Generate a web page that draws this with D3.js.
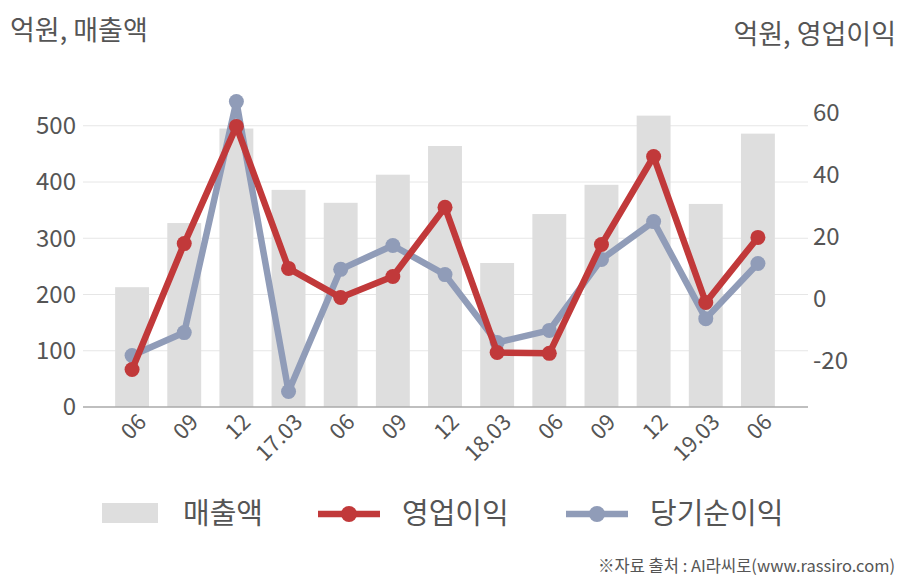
<!DOCTYPE html>
<html>
<head>
<meta charset="utf-8">
<script src="https://cdn.jsdelivr.net/npm/d3@7"></script>
<style>
  body { margin: 0; background: #fff; }
  svg text { font-family: "Noto Sans CJK KR", "Noto Sans", sans-serif; fill: #555; }
</style>
</head>
<body>
<div class="chart"></div>
<script>
const periods = ["06", "09", "12", "17.03", "06", "09", "12", "18.03", "06", "09", "12", "19.03", "06"]
const sales = [213, 327, 495, 386, 363, 413, 464, 256, 343, 395, 518, 361, 486]
const opProfit = [-22.9, 17.7, 55.5, 9.7, 0.3, 7.1, 29.4, -17.4, -17.7, 17.4, 45.8, -1.3, 19.7]
const netProfit = [-18.4, -11, 63.5, -30, 9.4, 17.1, 7.7, -14.2, -10.3, 12.6, 24.8, -6.5, 11.3]
const leftTicks = [0, 100, 200, 300, 400, 500]
const rightTicks = [-20, 0, 20, 40, 60]

const width = 908
const height = 580
const plot = { left: 83, right: 808, top: 92, bottom: 407 }
const red = "#c1393a"
const blue = "#909cb8"

const svg = d3.select(".chart").append("svg")
  .attr("width", width)
  .attr("height", height)

const x = d3.scaleBand()
  .domain(d3.range(periods.length))
  .range([106, 784])
  .paddingInner(0.35)
  .paddingOuter(0.175)
const yL = d3.scaleLinear().domain([0, 560]).range([plot.bottom, plot.top])
const yR = d3.scaleLinear().domain([-35, 66.6]).range([plot.bottom, plot.top])
const cx = i => x(i) + x.bandwidth() / 2

// gridlines (left axis only)
svg.append("g").selectAll("line")
  .data(leftTicks.slice(1))
  .enter().append("line")
  .attr("x1", plot.left).attr("x2", plot.right)
  .attr("y1", d => yL(d)).attr("y2", d => yL(d))
  .attr("stroke", "#e6e6e6").attr("stroke-width", 1)

// bars
svg.append("g").selectAll("rect")
  .data(sales)
  .enter().append("rect")
  .attr("x", (d, i) => x(i))
  .attr("width", x.bandwidth())
  .attr("y", d => yL(d))
  .attr("height", d => yL(0) - yL(d))
  .attr("fill", "#dedede")

// axis line
svg.append("line")
  .attr("x1", plot.left).attr("x2", plot.right)
  .attr("y1", plot.bottom).attr("y2", plot.bottom)
  .attr("stroke", "#aaa").attr("stroke-width", 1.5)

// left ticks
svg.append("g").selectAll("text")
  .data(leftTicks)
  .enter().append("text")
  .attr("x", 76).attr("y", d => yL(d))
  .attr("dy", "0.35em")
  .attr("text-anchor", "end")
  .attr("font-size", 24)
  .text(d => d)

// right ticks
svg.append("g").selectAll("text")
  .data(rightTicks)
  .enter().append("text")
  .attr("x", 813).attr("y", d => yR(d))
  .attr("dy", "0.35em")
  .attr("font-size", 24)
  .text(d => d)

// x labels
svg.append("g").selectAll("text")
  .data(periods)
  .enter().append("text")
  .attr("transform", (d, i) => `translate(${cx(i) + 10}, 418) rotate(-45)`)
  .attr("text-anchor", "end")
  .attr("dy", "0.35em")
  .attr("font-size", 22)
  .text(d => d)

// lines
function drawSeries(values, color) {
  const line = d3.line().x((d, i) => cx(i)).y(d => yR(d))
  const g = svg.append("g")
  g.append("path")
    .attr("d", line(values))
    .attr("fill", "none")
    .attr("stroke", color)
    .attr("stroke-width", 6.5)
    .attr("stroke-linejoin", "round")
  g.selectAll("circle")
    .data(values)
    .enter().append("circle")
    .attr("cx", (d, i) => cx(i))
    .attr("cy", d => yR(d))
    .attr("r", 7.5)
    .attr("fill", color)
}
drawSeries(netProfit, blue)
drawSeries(opProfit, red)

// titles
svg.append("text").attr("x", 10).attr("y", 40).attr("font-size", 27).text("억원, 매출액")
svg.append("text").attr("x", 896).attr("y", 44).attr("text-anchor", "end").attr("font-size", 27).text("억원, 영업이익")

// legend
const legend = svg.append("g")
legend.append("rect").attr("x", 102).attr("y", 503).attr("width", 56).attr("height", 20).attr("fill", "#dedede")
legend.append("text").attr("x", 183).attr("y", 514).attr("dy", "0.35em").attr("font-size", 29).text("매출액")
const legendLines = [
  { label: "영업이익", color: red, x: 318 },
  { label: "당기순이익", color: blue, x: 566 }
]
legendLines.forEach(l => {
  legend.append("line").attr("x1", l.x).attr("x2", l.x + 62).attr("y1", 514).attr("y2", 514)
    .attr("stroke", l.color).attr("stroke-width", 6.5)
  legend.append("circle").attr("cx", l.x + 31).attr("cy", 514).attr("r", 8).attr("fill", l.color)
  legend.append("text").attr("x", l.x + 84).attr("y", 514).attr("dy", "0.35em").attr("font-size", 29).text(l.label)
})

// source
svg.append("text").attr("x", 895).attr("y", 572).attr("text-anchor", "end").attr("font-size", 16.5)
  .text("※자료 출처 : AI라씨로(www.rassiro.com)")
</script>
</body>
</html>
